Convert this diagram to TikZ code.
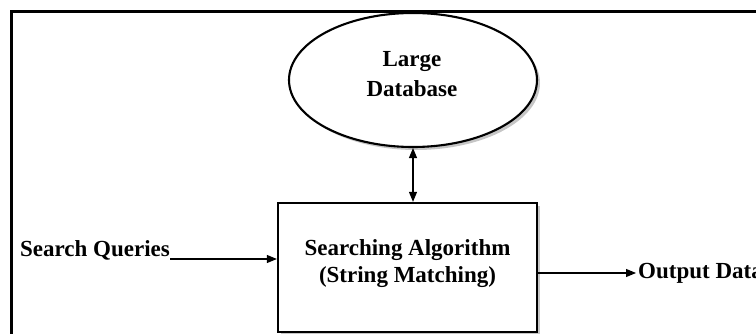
\documentclass[tikz,border=0pt]{standalone}
\usepackage{fontspec}
\setmainfont{Liberation Serif}
\usetikzlibrary{arrows.meta,shapes.geometric,shadows}

\tikzset{
  lbl/.style={font=\fontsize{23}{28}\selectfont\bfseries, align=center},
  softshadow/.style={drop shadow={shadow xshift=3pt, shadow yshift=-3pt, opacity=0.45, fill=black!50}},
  dbshape/.style={ellipse, draw, line width=2.1pt, fill=white, softshadow,
                  minimum width=248pt, minimum height=134pt, inner sep=0pt},
  procbox/.style={draw, line width=2.3pt, fill=white, softshadow,
                  minimum width=259pt, minimum height=129pt, inner sep=0pt},
  arr/.style={line width=1.1pt, -{Triangle[length=10pt,width=8pt]}},
  biarr/.style={line width=1.1pt, {Triangle[length=10pt,width=8pt]}-{Triangle[length=10pt,width=8pt]}},
}

\begin{document}
\begin{tikzpicture}[x=1pt, y=-1pt]
  \useasboundingbox (0,0) rectangle (756,334);
  \begin{scope}
    \clip (0,0) rectangle (756,334);
    % outer frame, running past the right and bottom edges
    \draw[line width=3.2pt] (11.5,11.5) rectangle (790,360);

    % process box and database (anchor base = baseline of the last line)
    \node[procbox] (algo) at (407.5,267.5) {};
    \node[lbl, anchor=base] (algotxt) at (407.5,283) {Searching Algorithm\\(String Matching)};
    \node[dbshape] (db) at (413,80) {};
    \node[lbl, font=\fontsize{23}{30}\selectfont\bfseries, anchor=base] (dbtxt) at (412,97) {Large\\Database};

    % input and output labels
    \node[lbl, inner sep=0pt, anchor=base west] (sq) at (20,257) {Search Queries};
    \node[lbl, inner sep=2pt, anchor=west] (out) at (636,273) {Output Data};

    % connectors
    \coordinate (sqend) at ([yshift=-2pt]sq.base east);
    \draw[arr] (sqend) -- (sqend -| algo.west);
    \draw[biarr] (db.south) -- (db.south |- algo.north);
    \draw[arr] (out.west -| algo.east) -- (out.west);
  \end{scope}
\end{tikzpicture}
\end{document}
